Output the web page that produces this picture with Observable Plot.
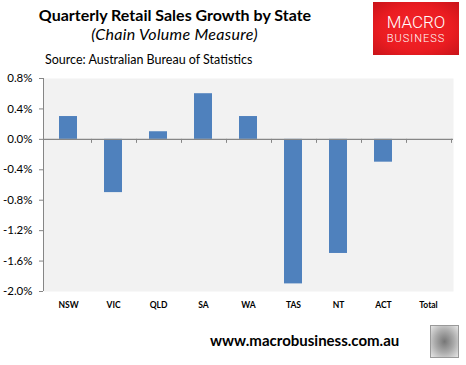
<!DOCTYPE html>
<html><head><meta charset="utf-8">
<script src="https://cdn.jsdelivr.net/npm/d3@7"></script>
<script src="https://cdn.jsdelivr.net/npm/@observablehq/plot@0.6"></script>
<style>
body{margin:0;background:#fff;}
#wrap{position:relative;width:466px;height:365px;overflow:hidden;font-family:Lato,"Open Sans",sans-serif;color:#000;}
.abs{position:absolute;white-space:nowrap;line-height:1;}
#chart{position:absolute;left:0;top:0;}
</style></head><body>
<div id="wrap">
  <div id="chart"></div>
  <div class="abs" id="title" style="left:0;width:350px;top:7px;text-align:center;font-weight:bold;font-size:16px;">Quarterly Retail Sales Growth by State</div>
  <div class="abs" id="subtitle" style="left:0;width:349px;top:26px;text-align:center;font-style:italic;font-size:16px;letter-spacing:0.3px;">(Chain Volume Measure)</div>
  <div class="abs" id="source" style="left:45px;top:54px;font-size:12.5px;">Source: Australian Bureau of Statistics</div>
  <div class="abs" id="logo" style="left:373px;top:2px;width:86px;height:53px;background:radial-gradient(ellipse at center,#f5262b 0%,#ea1c21 60%,#c8141a 100%);color:#fff;font-family:Roboto,sans-serif;text-align:center;">
    <div style="position:absolute;left:0;width:86px;top:12px;font-size:17px;font-weight:300;line-height:1;">MACRO</div>
    <div style="position:absolute;left:0;width:86px;top:31px;font-size:11px;font-weight:300;letter-spacing:1px;line-height:1;">BUSINESS</div>
  </div>
  <div class="abs" id="footer" style="left:210px;top:333px;font-weight:bold;font-size:15px;">www.macrobusiness.com.au</div>
  <div class="abs" id="wolf" style="left:430px;top:325px;width:27px;height:31px;border:1px solid #999;background:radial-gradient(ellipse at center,#777 0%,#aaa 50%,#e6e6e6 100%);"></div>
</div>
<script>
const states = ["NSW","VIC","QLD","SA","WA","TAS","NT","ACT","Total"];
const growth = [0.3,-0.7,0.1,0.6,0.3,-1.9,-1.5,-0.3,0];
const yTicks = [0.8,0.4,0.0,-0.4,-0.8,-1.2,-1.6,-2.0];
const data = states.map((s,i)=>({state:s, value:growth[i]}));

function categoryTicks(index, scales, values, dims) {
  const x = scales.x, y = scales.y;
  const bw = x.bandwidth ? x.bandwidth() : 0;
  const step = x.step ? x.step() : (x(states[1]) - x(states[0]));
  const g = d3.create("svg:g").attr("stroke","#868686").attr("fill","none");
  const y0 = y(0);
  g.append("line").attr("x1",dims.marginLeft+0.5).attr("x2",dims.marginLeft+0.5)
    .attr("y1",y(yTicks[0])).attr("y2",y(yTicks[yTicks.length-1]));
  states.forEach(s=>{
    const xb = Math.round(x(s) + bw + (step-bw)/2) + 0.5;
    g.append("line").attr("x1",xb).attr("x2",xb).attr("y1",y0).attr("y2",y0+4);
  });
  return g.node();
}

const chart = Plot.plot({
  width: 466,
  height: 365,
  marginLeft: 43,
  marginRight: 13,
  marginTop: 78,
  marginBottom: 74,
  style: {fontFamily: "Lato, 'Open Sans', sans-serif", background: "transparent", color: "#000"},
  x: {domain: states, paddingInner: 0.6, paddingOuter: 0.3, label: null},
  y: {domain: [-2.0, 0.8], label: null},
  marks: [
    Plot.frame({fill: "#f2f2f2", stroke: null}),
    Plot.barY(data, {x: "state", y: "value", fill: "#4f81bd"}),
    Plot.ruleY([0], {stroke: "#868686", strokeWidth: 1.2}),
    categoryTicks,
    Plot.axisY({ticks: yTicks, tickFormat: d => d.toFixed(1) + "%", tickSize: 4, tickPadding: 7, stroke: "#868686", fill: "#000", fontSize: 11.5, label: null}),
    Plot.axisX({tickSize: 0, tickPadding: 10, fontSize: 8.5, fontWeight: "bold", fill: "#000", label: null})
  ]
});
document.getElementById("chart").appendChild(chart);
</script>
</body></html>
